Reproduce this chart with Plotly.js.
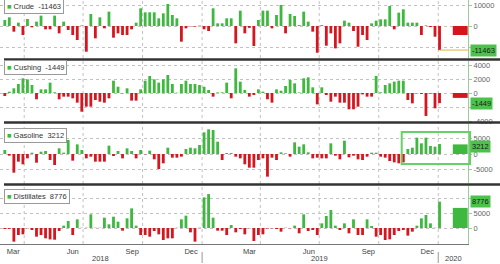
<!DOCTYPE html>
<html><head><meta charset="utf-8">
<script src="https://cdn.plot.ly/plotly-3.0.1.min.js"></script>
<style>html,body{margin:0;padding:0;background:#fff}#chart{width:500px;height:264px}</style>
</head><body><div id="chart"></div>
<script>
// weekly changes (thousand barrels), one bar per week starting 2018-03-02
const firstWeek = '2018-03-02';
const crude = [2860, 4130, -2700, 1590, -4290, 3340, -640, 2070, 4930, -1590,
 -1590, 4930, -3500, 2070, -1910, -4290, -6680, 300, -12240, 5720,
 -5880, 4130, -1110, 6840, -5570, -3500, -4290, -4290, -1590, 1590,
 8430, 6520, 6520, 6520, 3660, 6040, 10490, 5250, 3660, -7470,
 -1110, -200, -300, 200, -1590, -2390, 8430, 1270, 1270, 3660,
 3660, -8270, 7310, -3500, -900,
 -9540, 2860, 7310, 7310, -1110, 5250, 10020, -3500, 5720, 4770,
 480, 6840, 2070, -2700, -12720, 480, -9380, -3500, -10650, -8270,
 2540, 1590, -2390, -9860, -4290, -6680, 1270, 2540, 3180, 3180,
 9540, -1590, 6360, 7950, 1590, 1590, 1590, -4290, 300, -500,
 -5090, -11463];
const cushing = [-430, 190, 670, 1290, 2100, 1950, 1140, -900, 520, 520,
 1480, 100, -900, -520, -520, -760, -1380, -2670, -1950, -1950,
 -1000, -1240, -1380, -760, 1760, 900, -50, 670, -1090, -1090,
 520, 1760, 2430, 1950, 1480, 1950, 2570, 1290, 50, 1290,
 1760, 1290, 1290, 1140, 900, 430, -520, 80, 100, 1480,
 -760, 3520, 1620, 430, -520,
 -290, 520, 190, -900, -1380, 520, 330, 1000, 1860, 1380,
 80, 2100, 2240, 810, -1620, 810, -290, -1240, -520, -1380,
 -1380, -2330, -2330, -1950, -200, -520, -520, 2430, 100, 1140,
 1380, 1620, 1760, 1760, -1000, -1480, -50, -140, -3280, -100,
 -2190, -1449];
const gasoline = [1290, -540, -6020, -2470, -3330, -1400, 430, -2800, 750, 970,
 -1940, -3550, 1830, 430, 4520, -2150, 3120, 1290, -1400, -860,
 -2470, -2470, -2470, 2690, -650, 970, -1400, 1830, 970, -1400,
 1290, -100, 1080, -1720, -4840, -3010, 2040, -1180, -1180, -860,
 1610, 2040, 1830, 2900, 6990, 7960, 7740, 3980, -1940, 320,
 320, -860, -1400, -3330, -4410,
 -4410, -1940, -1400, -7310, -1180, -1940, 540, 220, -860, 3760,
 2370, 3120, 540, -1400, -1180, -1400, -1400, 3440, -540, -1720,
 4300, -1080, -540, -1720, -1940, -860, 430, 430, -860, -1180,
 -2260, -2690, -3010, -2690, 1610, 2040, 5270, 3440, 5270, 2580,
 2370, 3212];
const distillates = [-330, -300, -4550, -2330, -2110, -100, -670, -2890, -2330, -3440,
 -3800, -3900, -1000, 780, 2330, -2330, 2890, 100, 100, 4550,
 100, 100, 3440, 1220, 3770, 2110, -890, 3220, 6550, 780,
 -2330, -2330, -2890, -1000, -2110, -4000, -3440, -3440, 100, 2890,
 4110, -1440, -4550, 100, 10210, 11320, 3440, -890, -890, -2330,
 1000, -1440, -330, -2110, -100,
 -4330, -2330, -2110, -200, -100, -330, -1220, 100, -100, 780,
 -1780, 4550, -1000, -670, -2330, 1550, 4000, 5990, 780, -670,
 1550, -1780, 2890, -2330, -2330, 2890, 670, -2890, -2330, -4000,
 -3770, -2330, -1000, -670, -2550, -1220, 780, 3220, 4330, 1550,
 100, 8776];
const seriesNames = ['Crude', 'Cushing', 'Gasoline', 'Distillates'];
const nextWeekDate = '2020-02-04';
const nextWeek = [-4300, -700, 3100, 6700];
const yTicks = [[-10000, 0, 10000], [-4000, -2000, 0, 2000, 4000], [-5000, 0, 5000], [0, 5000, 10000]];
// tick labels hidden behind the last-value tags are left blank
const yTickText = [['', '0', '10000'], ['-4000', '', '0', '2000', '4000'], ['-5000', '0', '5000'], ['0', '5000', '']];
const monthTickVals = ['2018-03-15','2018-06-15','2018-09-15','2018-12-15','2019-03-15','2019-06-15','2019-09-15','2019-12-15'];
const monthTickText = ['Mar','Jun','Sep','Dec','Mar','Jun','Sep','Dec'];
const yearLabels = ['2018', '2019', '2020'];
const yearLabelDates = ['2018-07-28', '2019-07-02', '2020-01-24'];
const yearBreaks = ['2019-01-01', '2020-01-01'];
const quarterLines = ['2018-04-01','2018-07-01','2018-10-01','2019-01-01','2019-04-01','2019-07-01','2019-10-01','2020-01-01'];

const GREEN = '#3fb83f', RED = '#d6161f';
const FONT = 'Liberation Sans, Arial, sans-serif';
const H = 244, W = 468;
const allSeries = [crude, cushing, gasoline, distillates];
const dates = crude.map((_, i) => {
  const d = new Date(firstWeek + 'T00:00:00Z');
  d.setUTCDate(d.getUTCDate() + 7 * i);
  return d.toISOString().slice(0, 10);
});

const panelPx = [[0, 58], [61, 121], [124, 183], [186, 244]];
const yRanges = [[-15240, 12380], [-4000, 4571], [-9355, 9677], [-5333, 14000]];
const legendCenters = [6, 67.5, 135.5, 196];
const tagShift = [0, 0, -2, 0];

const traces = [];
const layout = {
  width: 500, height: 264,
  margin: {l: 0, r: 32, t: 0, b: 20},
  paper_bgcolor: '#fff', plot_bgcolor: '#fff',
  showlegend: false, barmode: 'overlay', bargap: 0.38,
  font: {family: FONT, size: 7.5, color: '#555'},
  xaxis: {
    type: 'date', range: ['2018-02-22 14:00', '2020-02-16'], anchor: 'y4',
    tickvals: monthTickVals, ticktext: monthTickText, showgrid: false, ticks: '',
    showline: true, linecolor: '#777', linewidth: 1, zeroline: false,
    tickfont: {family: FONT, size: 7.5, color: '#444'}, fixedrange: true
  },
  shapes: [], annotations: []
};

allSeries.forEach((vals, k) => {
  const ax = k === 0 ? '' : String(k + 1);
  traces.push({
    type: 'bar', x: dates, y: vals, xaxis: 'x', yaxis: 'y' + ax,
    marker: {color: vals.map(v => v >= 0 ? GREEN : RED), line: {width: 0}},
    hoverinfo: 'skip'
  });
  traces.push({
    type: 'bar', x: [nextWeekDate], y: [nextWeek[k]], width: [23 * 86400000],
    xaxis: 'x', yaxis: 'y' + ax,
    marker: {color: nextWeek[k] >= 0 ? GREEN : RED, line: {width: 0}}, hoverinfo: 'skip'
  });
  const [top, bot] = panelPx[k];
  layout['yaxis' + ax] = {
    domain: [1 - bot / H, 1 - top / H], range: yRanges[k], anchor: 'x', side: 'right',
    tickvals: yTicks[k], ticktext: yTickText[k],
    showgrid: true, griddash: 'dot', gridcolor: '#c2c2c2', gridwidth: 1,
    zeroline: false, showline: true, linecolor: '#9ccc9c', linewidth: 1,
    ticks: 'outside', ticklen: 3, tickcolor: '#9ccc9c',
    tickfont: {family: FONT, size: 7.5, color: '#666'}, fixedrange: true
  };
  const last = vals[vals.length - 1];
  layout.annotations.push({
    xref: 'paper', yref: 'paper', x: 4 / W, y: 1 - legendCenters[k] / H,
    xanchor: 'left', yanchor: 'middle', showarrow: false,
    text: '<span style="color:' + GREEN + '">■</span> ' + seriesNames[k] + '  ' + last,
    font: {family: FONT, size: 7.5, color: '#333'},
    bgcolor: '#fff', bordercolor: '#9a9a9a', borderwidth: 1, borderpad: 2
  });
  layout.annotations.push({
    xref: 'paper', yref: 'y' + ax, x: 470 / W, y: last, yshift: tagShift[k],
    xanchor: 'left', yanchor: 'middle', showarrow: false,
    text: String(last), font: {family: FONT, size: 7.5, color: '#1a1a1a'},
    bgcolor: '#4cc24c', borderpad: 1
  });
});

quarterLines.forEach(d => layout.shapes.push({
  type: 'line', xref: 'x', yref: 'paper', x0: d, x1: d, y0: 0, y1: 1,
  line: {color: '#c2c2c2', width: 1, dash: 'dot'}, layer: 'below'
}));
[59.5, 122.5, 184.5].forEach(py => layout.shapes.push({
  type: 'line', xref: 'paper', yref: 'paper', x0: 4 / W, x1: 500 / W, y0: 1 - py / H, y1: 1 - py / H,
  line: {color: '#333', width: 2.5}, layer: 'above'
}));
layout.shapes.push({
  type: 'line', xref: 'x', yref: 'y', x0: dates[dates.length - 1], x1: '2020-02-16',
  y0: crude[crude.length - 1], y1: crude[crude.length - 1],
  line: {color: '#d8b64a', width: 1}, layer: 'above'
});
layout.shapes.push({
  type: 'rect', xref: 'paper', yref: 'paper', x0: 401.7 / W, x1: 470 / W,
  y0: 1 - 164 / H, y1: 1 - 132 / H, line: {color: '#66d166', width: 2}, fillcolor: 'rgba(0,0,0,0)', layer: 'above'
});
yearBreaks.forEach(d => layout.shapes.push({
  type: 'line', xref: 'x', yref: 'paper', x0: d, x1: d, y0: -8 / H, y1: -19 / H,
  line: {color: '#999', width: 1}
}));
yearLabels.forEach((t, i) => layout.annotations.push({
  xref: 'x', yref: 'paper', x: yearLabelDates[i], y: -14 / H, yanchor: 'middle',
  showarrow: false, text: t, font: {family: FONT, size: 7.5, color: '#444'}
}));

Plotly.newPlot('chart', traces, layout, {staticPlot: true, displayModeBar: false});
</script></body></html>
